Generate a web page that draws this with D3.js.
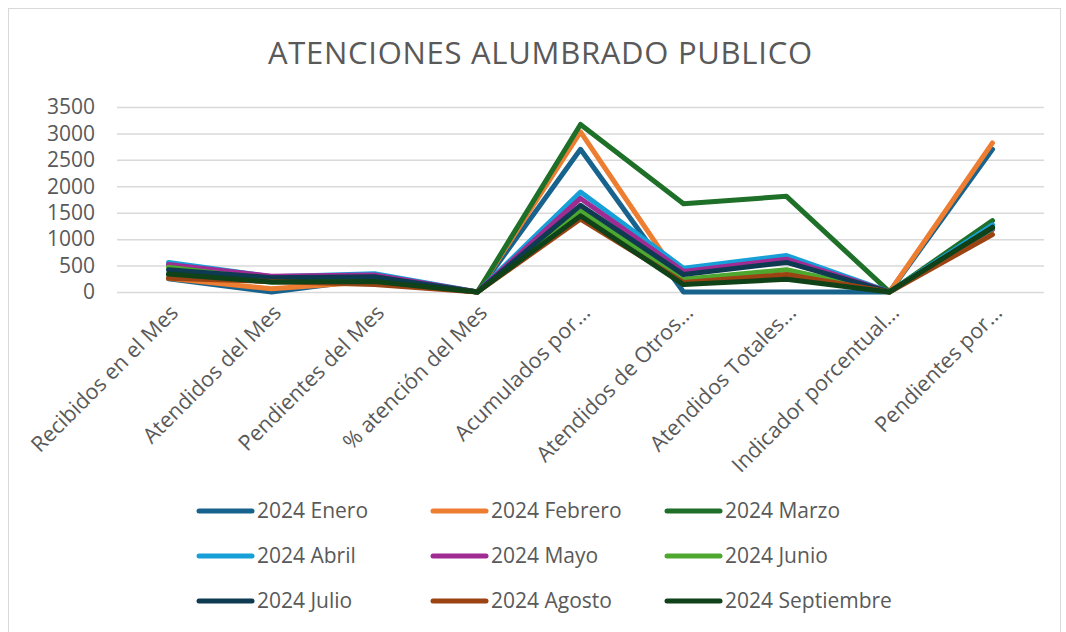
<!DOCTYPE html>
<html>
<head>
<meta charset="utf-8">
<script src="https://cdn.jsdelivr.net/npm/d3@7"></script>
<style>
  body { margin: 0; background: #fff; }
  text { font-family: "Open Sans", "Noto Sans", sans-serif; fill: #595959; }
</style>
</head>
<body>
<div id="chart"></div>
<script>
// categories + series
var categories = ["Recibidos en el Mes", "Atendidos del Mes", "Pendientes del Mes", "% atención del Mes",
  "Acumulados por...", "Atendidos de Otros...", "Atendidos Totales...", "Indicador porcentual...", "Pendientes por..."];
var seriesNames = ["2024 Enero", "2024 Febrero", "2024 Marzo", "2024 Abril", "2024 Mayo",
  "2024 Junio", "2024 Julio", "2024 Agosto", "2024 Septiembre"];
var enero      = [250, 0,   250, 0.5, 2700, 0,    0,    0.5, 2700];
var febrero    = [260, 60,  200, 0.8, 3030, 150,  300,  1,   2820];
var marzo      = [330, 190, 210, 0.6, 3170, 1670, 1810, 1,   1350];
var abril      = [560, 290, 345, 0.5, 1890, 450,  690,  1,   1270];
var mayo       = [520, 300, 320, 0.6, 1770, 390,  620,  1,   1180];
var junio      = [470, 230, 270, 0.5, 1530, 240,  420,  1,   1200];
var julio      = [420, 270, 290, 0.6, 1640, 330,  560,  1,   1215];
var agosto     = [260, 200, 140, 0.8, 1380, 180,  330,  1,   1085];
var septiembre = [340, 190, 200, 0.6, 1440, 140,  240,  1,   1225];
var yTicks = [0, 500, 1000, 1500, 2000, 2500, 3000, 3500];
var colors = ["#17638d", "#ed7d31", "#1e6f28", "#17a0d8", "#a02b93", "#4ea72e", "#0e3a52", "#9b4313", "#0f4218"];

var allValues = [enero, febrero, marzo, abril, mayo, junio, julio, agosto, septiembre];
var series = seriesNames.map((n, i) => ({ name: n, values: allValues[i], color: colors[i] }));

var width = 1066;
var height = 632;
var plot = { left: 117, right: 1044, top: 107, bottom: 292 };

var svg = d3.select("#chart")
  .append("svg")
  .attr("width", width)
  .attr("height", height);

// chart frame
svg.append("rect")
  .attr("x", 8.5).attr("y", 8.5)
  .attr("width", 1052).attr("height", 640)
  .attr("fill", "none")
  .attr("stroke", "#d9d9d9");

svg.append("text")
  .attr("x", 540).attr("y", 64)
  .attr("text-anchor", "middle")
  .attr("font-size", 31)
  .attr("textLength", 544)
  .text("ATENCIONES ALUMBRADO PUBLICO");

const xScale = d3.scaleBand()
  .domain(categories)
  .range([plot.left, plot.right]);
const yScale = d3.scaleLinear()
  .domain([0, 3500])
  .range([plot.bottom, plot.top]);

// gridlines + y labels
const yAxis = d3.axisLeft(yScale)
  .tickValues(yTicks)
  .tickSize(-(plot.right - plot.left))
  .tickPadding(22)
  .tickFormat(d3.format("d"));
svg.append("g")
  .attr("transform", `translate(${plot.left}, 0)`)
  .call(yAxis)
  .call(g => g.select(".domain").remove())
  .call(g => g.selectAll("line").attr("stroke", "#d9d9d9").attr("stroke-width", 1.5))
  .call(g => g.selectAll("text").attr("font-size", 21).attr("fill", "#595959")
    .style("font-family", "'Open Sans', sans-serif"));

// x labels, rotated
const xAxis = d3.axisBottom(xScale).tickSize(0).tickPadding(0);
svg.append("g")
  .attr("transform", `translate(0, ${plot.bottom})`)
  .call(xAxis)
  .call(g => g.select(".domain").remove())
  .selectAll("text")
  .attr("font-size", 21.5)
  .attr("fill", "#595959")
  .style("font-family", "'Open Sans', sans-serif")
  .attr("text-anchor", "end")
  .attr("dy", 0)
  .attr("transform", "translate(11, 22) rotate(-45)");

const line = d3.line()
  .x((d, i) => xScale(categories[i]) + xScale.bandwidth() / 2)
  .y(d => yScale(d));

svg.append("g")
  .selectAll("path")
  .data(series)
  .enter()
  .append("path")
  .attr("d", d => line(d.values))
  .attr("fill", "none")
  .attr("stroke", d => d.color)
  .attr("stroke-width", 5)
  .attr("stroke-linejoin", "round")
  .attr("stroke-linecap", "round");

// legend 3x3
var legCols = [197, 431, 665];
var legRows = [511, 556, 601];
var legend = svg.append("g")
  .selectAll("g")
  .data(series)
  .enter()
  .append("g")
  .attr("transform", (d, i) => `translate(${legCols[i % 3]}, ${legRows[Math.floor(i / 3)]})`);
legend.append("line")
  .attr("x1", 2).attr("x2", 55)
  .attr("stroke", d => d.color)
  .attr("stroke-width", 5)
  .attr("stroke-linecap", "round");
legend.append("text")
  .attr("x", 60).attr("y", 7)
  .attr("font-size", 21)
  .text(d => d.name);
</script>
</body>
</html>
